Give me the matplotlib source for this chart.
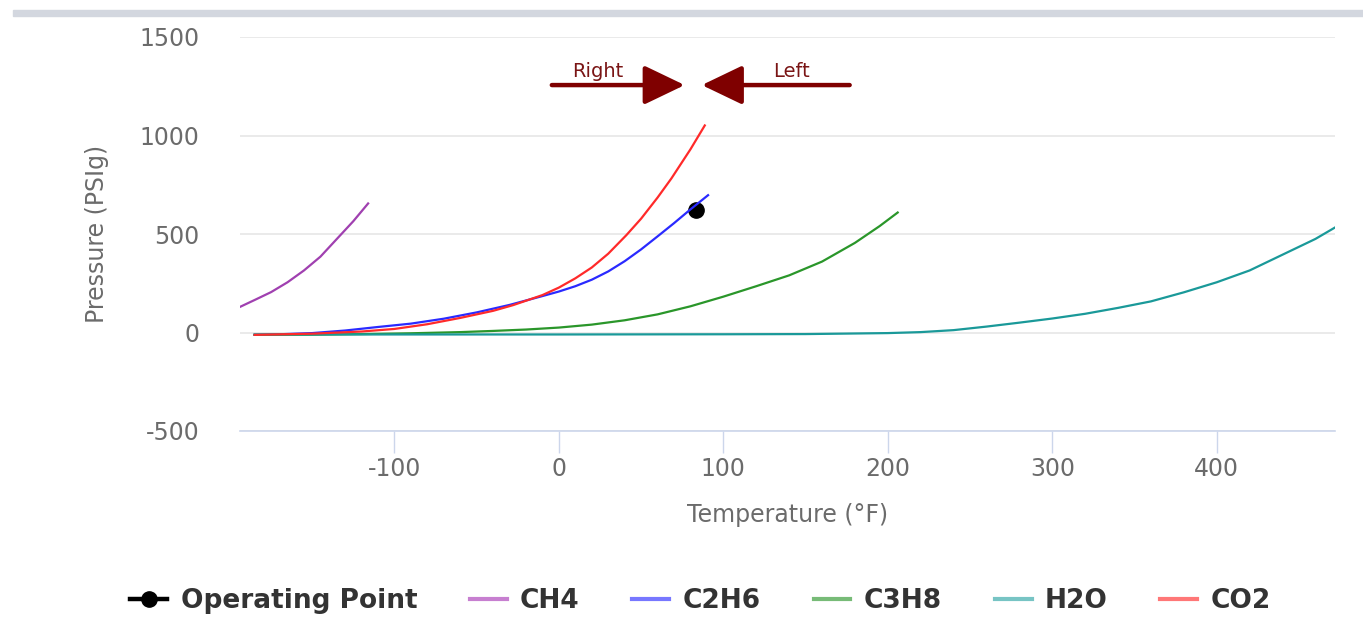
import matplotlib
matplotlib.use("Agg")
import matplotlib.pyplot as plt
from matplotlib.lines import Line2D
from matplotlib.patches import Rectangle

plt.rcParams["axes.unicode_minus"] = False

# =========================
# Data
# =========================
CH4_T = [-193.9, -185, -175, -165, -155, -145, -135, -125, -116]
CH4_P = [130, 165, 205, 255, 315, 385, 475, 565, 655]

C2H6_T = [-185, -170, -150, -130, -110, -90, -70, -50, -30, -10, 0, 10, 20,
          30, 40, 50, 60, 70, 80, 90.7]
C2H6_P = [-12, -9, -3, 10, 28, 45, 70, 102, 140, 185, 208, 235, 268,
          310, 362, 422, 488, 555, 625, 697]

C3H8_T = [-185, -150, -120, -90, -60, -40, -20, 0, 20, 40, 60, 80, 100,
          120, 140, 160, 180, 195, 206]
C3H8_P = [-12, -11, -8, -4, 2, 8, 15, 25, 40, 62, 92, 133, 182,
          235, 290, 360, 455, 540, 609]

H2O_T = [-185, 0, 100, 150, 200, 220, 240, 260, 280, 300, 320, 340, 360,
         380, 400, 420, 440, 460, 471.9]
H2O_P = [-10, -10, -9, -8, -3, 2, 12, 30, 50, 71, 95, 125, 158,
         204, 255, 315, 395, 475, 533]

CO2_T = [-185, -150, -120, -100, -80, -60, -40, -27.8, -10, 0, 10, 20, 30,
         41, 50, 60, 68.4, 80, 88.7]
CO2_P = [-12, -6, 5, 18, 42, 74, 110, 139, 190, 228, 275, 330, 400,
         494, 578, 685, 782, 930, 1051]

OP_T = [83.6]
OP_P = [621]

SERIES = ["CH4", "C2H6", "C3H8", "H2O", "CO2"]
LINE_COLORS = ["#a040b0", "#2a2aff", "#2a962a", "#1a9999", "#ff2a2a"]
LEGEND_COLORS = ["#c77fd0", "#7777ff", "#77bb77", "#77c4c4", "#ff7777"]

X_TICKS = [-100, 0, 100, 200, 300, 400]
Y_TICKS = [-500, 0, 500, 1000, 1500]

# arrow annotations (data coords)
ARROW_Y = 1256
RIGHT_ARROW = (-4.3, 76.5)
LEFT_ARROW = (176.8, 86.9)
LABEL_Y = 1327

# =========================
# Plot
# =========================
W, H = 1363, 617
fig = plt.figure(figsize=(W / 100, H / 100), dpi=100)
ax = fig.add_axes([240 / W, 1 - 431 / H, 1095 / W, 394 / H])

# top grey strip
fig.patches.append(Rectangle((13 / W, 1 - 16 / H), 1 - 13 / W, 6 / H,
                             transform=fig.transFigure, color="#d3d7df", zorder=0))

ax.plot(OP_T, OP_P, "o", color="black", ms=11, zorder=2)

data = [(CH4_T, CH4_P), (C2H6_T, C2H6_P), (C3H8_T, C3H8_P), (H2O_T, H2O_P), (CO2_T, CO2_P)]
for (t, p), c in zip(data, LINE_COLORS):
    ax.plot(t, p, color=c, lw=1.6, zorder=3, solid_joinstyle="round")

ax.set_xlim(-193.9, 471.9)
ax.set_ylim(-500, 1500)
ax.set_xticks(X_TICKS)
ax.set_yticks(Y_TICKS)
ax.yaxis.grid(True, color="#e6e6e6", lw=1.2)
ax.set_axisbelow(True)

for s in ["top", "right", "left"]:
    ax.spines[s].set_visible(False)
ax.spines["bottom"].set_color("#ccd6eb")
ax.spines["bottom"].set_linewidth(1.2)
ax.spines["bottom"].set_zorder(5)

ax.tick_params(axis="x", length=16, width=1, color="#ccd6eb", pad=2.5,
               labelsize=17, labelcolor="#6b6b6b")
ax.tick_params(axis="y", length=0, pad=29, labelsize=17, labelcolor="#6b6b6b")

ax.set_xlabel("Temperature (°F)", fontsize=17, color="#6b6b6b", labelpad=16)
ax.set_ylabel("Pressure (PSIg)", fontsize=17, color="#6b6b6b")
ax.yaxis.set_label_coords(-0.120, 0.5)

# Right / Left arrows
arrow_kw = dict(arrowstyle="-|>,head_length=2.5,head_width=1.2", color="#7f0000",
                lw=3.2, mutation_scale=10, shrinkA=0, shrinkB=0, capstyle="round")
ax.annotate("", xy=(RIGHT_ARROW[1], ARROW_Y), xytext=(RIGHT_ARROW[0], ARROW_Y),
            arrowprops=arrow_kw, annotation_clip=False)
ax.annotate("", xy=(LEFT_ARROW[1], ARROW_Y), xytext=(LEFT_ARROW[0], ARROW_Y),
            arrowprops=arrow_kw, annotation_clip=False)
ax.text(23.7, LABEL_Y, "Right", fontsize=14, color="#7a1515", ha="center", va="center")
ax.text(141.6, LABEL_Y, "Left", fontsize=14, color="#7a1515", ha="center", va="center")

# legend
handles = [Line2D([0], [0], color="black", lw=3.2, marker="o", ms=11)]
labels = ["Operating Point"]
for name, c in zip(SERIES, LEGEND_COLORS):
    handles.append(Line2D([0], [0], color=c, lw=3.0))
    labels.append(name)
leg = fig.legend(handles, labels, loc="center", bbox_to_anchor=(0.514, 1 - 601 / H),
                 ncol=6, frameon=False, handlelength=1.4, handletextpad=0.5,
                 columnspacing=2.0, prop={"weight": "bold", "size": 19})
for txt in leg.get_texts():
    txt.set_color("#333333")

fig.savefig("out.png", dpi=100)
